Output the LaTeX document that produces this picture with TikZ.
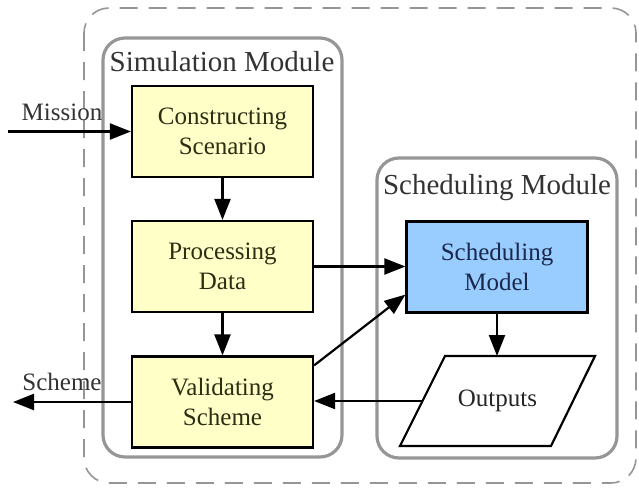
\documentclass[tikz,border=0pt]{standalone}
\usepackage{fontspec}
\setmainfont{Liberation Serif}
\usetikzlibrary{arrows.meta}
\definecolor{boxyellow}{RGB}{255,255,200}
\definecolor{boxblue}{RGB}{153,204,255}
\definecolor{modgray}{RGB}{150,150,150}
\definecolor{olivetext}{RGB}{45,45,20}
\definecolor{navytext}{RGB}{25,40,75}
\tikzstyle{stage} = [draw=black, line width=2.2pt, fill=boxyellow, text=olivetext, rectangle, align=center, inner sep=0pt, minimum width=181pt, minimum height=91pt, font=\fontsize{25}{30}\selectfont]
\tikzstyle{modelbox} = [stage, fill=boxblue, text=navytext]
\tikzstyle{outshape} = [draw=black, line width=2.2pt, fill=white]
\tikzstyle{module} = [draw=modgray, line width=3.2pt, rounded corners=22pt]
\tikzstyle{modtitle} = [text=black!80, inner sep=0pt, font=\fontsize{29}{32}\selectfont]
\tikzstyle{flowlabel} = [text=black!80, inner sep=0pt, font=\fontsize{25}{30}\selectfont]
\tikzstyle{flow} = [line width=2.2pt, -{Triangle[length=21pt,width=16pt]}]

\begin{document}
\begin{tikzpicture}[x=1pt, y=-1pt]
	\useasboundingbox (0,0) rectangle (639,487);
	% outer frame and the two modules
	\draw[modgray, line width=1.6pt, dash pattern=on 18pt off 11pt, rounded corners=25pt] (84,8) rectangle (636,483);
	\draw[module] (103,38) rectangle (342,457);
	\draw[module] (377,158) rectangle (617,458);
	\node[modtitle] (simtitle) at (222,62) {Simulation Module};
	\node[modtitle] (schedtitle) at (497,188) {Scheduling Module};
	% stages
	\node[stage] (cons) at (222.5,131.5) {Constructing\\Scenario};
	\node[stage] (proc) at (222.5,266.5) {Processing\\Data};
	\node[stage] (valid) at (222.5,402) {Validating\\Scheme};
	\node[modelbox] (model) at (497,267) {Scheduling\\Model};
	\draw[outshape] (400,446) -- (445,356) -- (595,356) -- (551,446) -- cycle;
	\node[flowlabel, text=black!85] (outputs) at (497.5,401) {Outputs};
	\coordinate (outtop) at (497,356);
	\coordinate (outleft) at (422.5,401);
	% inputs and outputs of the whole system
	\coordinate (missionin) at (8,131.5);
	\coordinate (schemeout) at (13,402);
	\node[flowlabel] (missionlbl) at (62,112) {Mission};
	\node[flowlabel] (schemelbl) at (62,382) {Scheme};
	% connectors
	\draw[flow] (missionin) -- (cons);
	\draw[flow] (cons) -- (proc);
	\draw[flow] (proc) -- (valid);
	\draw[flow] (proc.east) -- (proc.east -| model.west);
	\draw[flow] ([yshift=-10pt]valid.north east) -- ([yshift=19pt]model.south west);
	\draw[flow] (model) -- (outtop);
	\draw[flow] (outleft) -- (outleft -| valid.east);
	\draw[flow] (valid) -- (schemeout);
\end{tikzpicture}
\end{document}
